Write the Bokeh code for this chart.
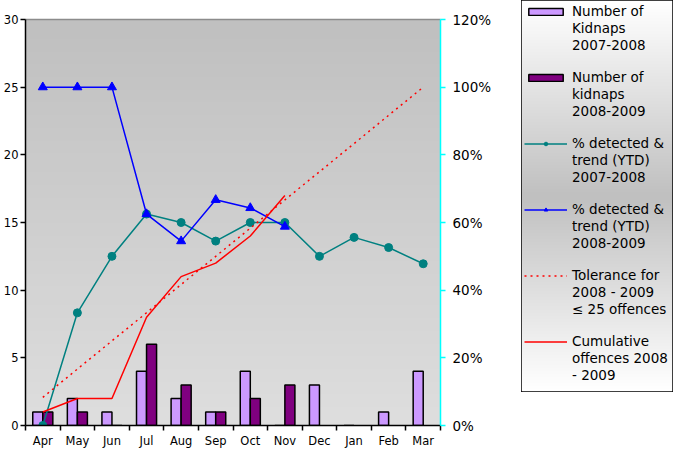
import numpy as np
from bokeh.plotting import figure
from bokeh.models import (Range1d, LinearAxis, FixedTicker, PrintfTickFormatter,
                          Legend, LegendItem)
from bokeh.layouts import row
from bokeh.embed import file_html
from bokeh.resources import INLINE

# ---- data ----
months = ["Apr", "May", "Jun", "Jul", "Aug", "Sep", "Oct", "Nov", "Dec", "Jan", "Feb", "Mar"]
kidnaps_0708 = [1, 2, 1, 4, 2, 1, 4, 0, 3, 0, 1, 4]
kidnaps_0809 = [1, 1, 0, 6, 3, 1, 2, 3]
detected_0708 = [0, 33.3, 50, 62.5, 60, 54.5, 60, 60, 50, 55.6, 52.6, 47.8]
detected_0809 = [100, 100, 100, 62.5, 54.5, 66.7, 64.3, 58.8]
tolerance_0809 = [2.08, 4.17, 6.25, 8.33, 10.42, 12.5, 14.58, 16.67, 18.75, 20.83, 22.92, 25]
cumulative_0809 = [1, 2, 2, 8, 11, 12, 14, 17]
left_ticks = [0, 5, 10, 15, 20, 25, 30]
right_ticks = [0, 20, 40, 60, 80, 100, 120]
legend_labels = [
    ["Number of", "Kidnaps", "2007-2008"],
    ["Number of", "kidnaps", "2008-2009"],
    ["% detected &", "trend (YTD)", "2007-2008"],
    ["% detected &", "trend (YTD)", "2008-2009"],
    ["Tolerance for", "2008 - 2009", "\u2264 25 offences"],
    ["Cumulative", "offences 2008", "- 2009"],
]

FONT = "DejaVu Sans"
LIGHT = "#cc99ff"
DARK = "#800080"
TEAL = "#008080"
BLUE = "#0000ff"
RED = "#ff0000"

idx = np.arange(len(months))

p = figure(width=521, height=450, x_range=Range1d(-0.5, len(months) - 0.5),
           y_range=Range1d(left_ticks[0], left_ticks[-1]),
           output_backend="svg", toolbar_location=None,
           min_border_top=19, min_border_right=81, min_border_left=23, min_border_bottom=24,
           background_fill_color="white", border_fill_color="white")
p.outline_line_color = None
p.xgrid.visible = False
p.ygrid.visible = False
p.extra_y_ranges = {"pct": Range1d(right_ticks[0], right_ticks[-1])}

# gradient background of the plot area
n = 64
g = np.linspace(222, 192, n).astype(np.uint8)
bg = np.zeros((n, 1), dtype=np.uint32)
v = bg.view(dtype=np.uint8).reshape((n, 1, 4))
v[:, 0, 0] = g
v[:, 0, 1] = g
v[:, 0, 2] = g
v[:, 0, 3] = 255
p.image_rgba(image=[bg], x=p.x_range.start, y=p.y_range.start,
             dw=p.x_range.end - p.x_range.start, dh=p.y_range.end - p.y_range.start,
             level="image")

# bars
bw = 0.29
p.vbar(x=idx - bw / 2, top=kidnaps_0708, width=bw, bottom=0,
       fill_color=LIGHT, line_color="black", line_width=1.5)
n2 = len(kidnaps_0809)
p.vbar(x=idx[:n2] + bw / 2, top=kidnaps_0809, width=bw, bottom=0,
       fill_color=DARK, line_color="black", line_width=1.5)

# lines
p.line(idx, detected_0708, y_range_name="pct", line_color=TEAL, line_width=1.5)
p.scatter(idx, detected_0708, y_range_name="pct", marker="circle", size=8,
          fill_color=TEAL, line_color=TEAL)
nb = len(detected_0809)
p.line(idx[:nb], detected_0809, y_range_name="pct", line_color=BLUE, line_width=1.5)
p.scatter(idx[:nb], detected_0809, y_range_name="pct", marker="triangle", size=9,
          fill_color=BLUE, line_color=BLUE)
p.line(idx, tolerance_0809, line_color=RED, line_width=1.5, line_dash="2 4")
nc = len(cumulative_0809)
p.line(idx[:nc], cumulative_0809, line_color=RED, line_width=1.5)

# x axis: labels at centers, ticks between categories
xa = p.xaxis[0]
xa.ticker = FixedTicker(ticks=list(idx), minor_ticks=[i - 0.5 for i in range(len(months) + 1)])
xa.major_label_overrides = {int(i): m for i, m in zip(idx, months)}
xa.major_tick_line_color = None
xa.major_tick_out = 4
xa.major_tick_in = 0
xa.minor_tick_line_color = "black"
xa.minor_tick_out = 5
xa.minor_tick_in = 0
xa.minor_tick_line_width = 1.5
xa.axis_line_color = "black"
xa.axis_line_width = 1.5
xa.major_label_standoff = 3
xa.major_label_text_font = FONT
xa.major_label_text_font_size = "11.5px"
xa.major_label_text_color = "black"

ya = p.yaxis[0]
ya.ticker = FixedTicker(ticks=left_ticks)
ya.minor_tick_line_color = None
ya.major_tick_out = 5
ya.major_tick_in = 0
ya.major_tick_line_color = "black"
ya.major_tick_line_width = 1.5
ya.axis_line_color = "black"
ya.axis_line_width = 1.5
ya.major_label_standoff = 2
ya.major_label_text_font = FONT
ya.major_label_text_font_size = "11.5px"
ya.major_label_text_color = "black"

ra = LinearAxis(y_range_name="pct", ticker=FixedTicker(ticks=right_ticks),
                formatter=PrintfTickFormatter(format="%d%%"))
ra.axis_line_color = "#00ffff"
ra.axis_line_width = 1.5
ra.major_tick_line_color = "#00ffff"
ra.major_tick_line_width = 1.5
ra.major_tick_out = 5
ra.major_tick_in = 0
ra.minor_tick_line_color = None
ra.major_label_standoff = 7
ra.major_label_text_font = FONT
ra.major_label_text_font_size = "13.5px"
ra.major_label_text_color = "black"
p.add_layout(ra, "right")

ta = LinearAxis(ticker=FixedTicker(ticks=[]))
ta.axis_line_color = "#8c8c8c"
ta.axis_line_width = 1.5
ta.major_tick_line_color = None
ta.minor_tick_line_color = None
ta.major_tick_out = 0
ta.minor_tick_out = 0
ta.major_label_standoff = 0
ta.major_label_text_font_size = "0px"
p.add_layout(ta, "above")

# ---- legend panel ----
lg = figure(width=152, height=392, x_range=Range1d(0, 1), y_range=Range1d(0, 1),
            output_backend="svg", toolbar_location=None,
            x_axis_location=None, y_axis_location=None,
            min_border_left=0, min_border_top=0, min_border_right=1, min_border_bottom=1,
            outline_line_color="black", outline_line_width=1.5,
            background_fill_color="white", border_fill_color="white")
lg.xgrid.visible = False
lg.ygrid.visible = False
for fig in (p, lg):
    try:
        fig.frame_align = False
    except Exception:
        pass

m = 128
half = np.linspace(255, 192, m // 2)
gl = np.concatenate([half, half[::-1]]).astype(np.uint8)
lbg = np.zeros((m, 1), dtype=np.uint32)
lv = lbg.view(dtype=np.uint8).reshape((m, 1, 4))
lv[:, 0, 0] = gl
lv[:, 0, 1] = gl
lv[:, 0, 2] = gl
lv[:, 0, 3] = 255
lg.image_rgba(image=[lbg], x=0, y=0, dw=1, dh=1, level="image")

# off-screen sample glyphs used only for the legend entries
ox, oy = [-10], [-10]
d1 = lg.vbar(x=ox, top=oy, width=0.1, fill_color=LIGHT, line_color="black", line_width=1.5)
d2 = lg.vbar(x=ox, top=oy, width=0.1, fill_color=DARK, line_color="black", line_width=1.5)
d3l = lg.line(x=ox, y=oy, line_color=TEAL, line_width=1.5)
d3s = lg.scatter(x=ox, y=oy, marker="circle", size=7, fill_color=TEAL, line_color=TEAL)
d4l = lg.line(x=ox, y=oy, line_color=BLUE, line_width=1.5)
d4s = lg.scatter(x=ox, y=oy, marker="triangle", size=8, fill_color=BLUE, line_color=BLUE)
d5 = lg.line(x=ox, y=oy, line_color=RED, line_width=1.5, line_dash="2 4")
d6 = lg.line(x=ox, y=oy, line_color=RED, line_width=1.5)
blank = lg.line(x=ox, y=oy, line_alpha=0)
samples = [[d1], [d2], [d3l, d3s], [d4l, d4s], [d5], [d6]]

# one legend per text line so that each sample sits on the first line of its entry
line_step = 17
for k in range(3):
    if k == 0:
        items = [LegendItem(label=lab[0], renderers=s) for lab, s in zip(legend_labels, samples)]
    else:
        items = [LegendItem(label=lab[k], renderers=[blank]) for lab in legend_labels]
    leg = Legend(items=items, location="top_left",
                 background_fill_alpha=0, border_line_alpha=0,
                 glyph_width=43 - k * line_step, glyph_height=9, label_standoff=5,
                 spacing=50, padding=3 + k * line_step, margin=0,
                 label_text_font=FONT, label_text_font_size="13.5px",
                 label_text_color="black")
    lg.add_layout(leg)

layout = row(p, lg)
open("out.html", "w").write(file_html(layout, INLINE))
